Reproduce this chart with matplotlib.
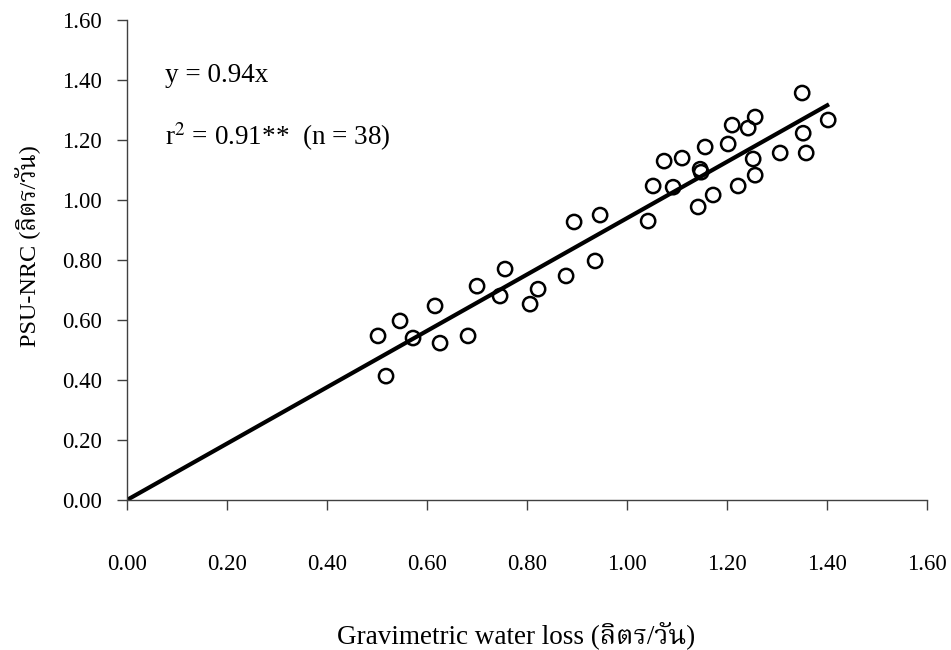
#!/usr/bin/env python3
import matplotlib
matplotlib.use("Agg")
import matplotlib.pyplot as plt
import numpy as np

# Gravimetric water loss vs PSU-NRC (litres/day)
gravimetric = [0.502, 0.546, 0.518, 0.572, 0.616, 0.626, 0.682, 0.700, 0.746, 0.756,
               0.806, 0.822, 0.878, 0.894, 0.936, 0.946, 1.042, 1.052, 1.074, 1.092,
               1.110, 1.142, 1.146, 1.148, 1.156, 1.172, 1.202, 1.210, 1.222, 1.242,
               1.252, 1.256, 1.256, 1.306, 1.350, 1.352, 1.358, 1.402]
psu_nrc = [0.547, 0.597, 0.413, 0.540, 0.647, 0.523, 0.547, 0.713, 0.680, 0.770,
           0.653, 0.703, 0.747, 0.927, 0.797, 0.950, 0.930, 1.047, 1.130, 1.043,
           1.140, 0.977, 1.103, 1.093, 1.177, 1.017, 1.187, 1.250, 1.047, 1.240,
           1.137, 1.277, 1.083, 1.157, 1.357, 1.223, 1.157, 1.267]
slope = 0.94
fit_x = [0.0, 1.40]
ticks = [0.0, 0.2, 0.4, 0.6, 0.8, 1.0, 1.2, 1.4, 1.6]

# Times-like font, with a Thai serif for the units
plt.rcParams['font.family'] = ['Liberation Serif', 'Noto Serif Thai']
plt.rcParams['mathtext.fontset'] = 'stix'

fig = plt.figure(figsize=(9.51, 6.5), dpi=100)
ax = fig.add_axes([0.1335, 0.2308, 0.8415, 0.7382])

# fitted line through origin and the data points
ax.plot(fit_x, slope * np.array(fit_x), color='black', lw=3, zorder=2)
ax.scatter(gravimetric, psu_nrc, s=105, facecolors='none', edgecolors='black',
           linewidths=1.8, zorder=3, clip_on=False)

ax.set_xlim(0, 1.6)
ax.set_ylim(0, 1.6)
ax.set_xticks(ticks)
ax.set_yticks(ticks)
ax.set_xticklabels([f"{t:.2f}" for t in ticks])
ax.set_yticklabels([f"{t:.2f}" for t in ticks])
ax.tick_params(axis='both', direction='out', length=7, width=1, colors='#404040',
               labelcolor='black', labelsize=16.5)
ax.tick_params(axis='x', pad=32)
ax.tick_params(axis='y', pad=11)

for side in ['top', 'right']:
    ax.spines[side].set_visible(False)
for side in ['left', 'bottom']:
    ax.spines[side].set_color('#404040')
    ax.spines[side].set_linewidth(1)

ax.text(0.076, 1.417, "y = 0.94x", fontsize=19.5, va='center', ha='left')
ax.text(0.076, 1.21, r"r$^{2}$ = 0.91**  (n = 38)", fontsize=19.5, va='center', ha='left')

fig.text(0.543, 0.011, "Gravimetric water loss (ลิตร/วัน)", fontsize=19.5,
         ha='center', va='baseline')
fig.text(0.03, 0.6215, "PSU-NRC (ลิตร/วัน)", fontsize=17.5, ha='center', va='center',
         rotation=90)

fig.savefig("out.png", dpi=100)
